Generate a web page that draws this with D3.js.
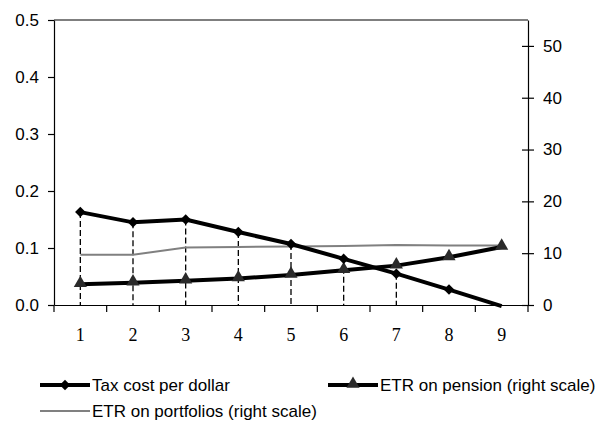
<!DOCTYPE html>
<html><head><meta charset="utf-8">
<script src="https://cdn.jsdelivr.net/npm/d3@7"></script>
<style>body{margin:0;background:#fff}</style>
</head><body>
<svg id="c" width="604" height="425"></svg>
<script>
const categories = ["1","2","3","4","5","6","7","8","9"];
const taxCost = [0.163, 0.145, 0.150, 0.128, 0.107, 0.081, 0.055, 0.027, -0.002];
const etrPension = [4.0, 4.3, 4.7, 5.1, 5.8, 6.7, 7.6, 9.2, 11.2];
const etrPortfolios = [9.7, 9.7, 11.1, 11.2, 11.3, 11.4, 11.6, 11.5, 11.5];
const dropCategories = ["1","2","3","4","5","6","7"];
const leftTicks = [0, 0.1, 0.2, 0.3, 0.4, 0.5];
const rightTicks = [0, 10, 20, 30, 40, 50];
const seriesNames = ["Tax cost per dollar", "ETR on pension (right scale)", "ETR on portfolios (right scale)"];

const svg = d3.select("#c");
const L = 54, R = 528, T = 20, B = 305;
const x = d3.scaleBand().domain(categories).range([L, R]);
const yL = d3.scaleLinear().domain([0, 0.5]).range([B, T]);
const yR = d3.scaleLinear().domain([0, 55]).range([B, T]);
const cx = d => x(d) + x.bandwidth() / 2;
const font = "Liberation Sans, Arial, sans-serif";

// frame top
svg.append("line").attr("x1", L).attr("x2", R).attr("y1", T).attr("y2", T).attr("stroke", "#000").attr("stroke-width", 1.2);

// left axis
const gL = svg.append("g").attr("transform", `translate(${L},0)`)
  .call(d3.axisLeft(yL).tickValues(leftTicks).tickFormat(d3.format(".1f")).tickSize(6).tickSizeOuter(0));
// right axis
const gR = svg.append("g").attr("transform", `translate(${R},0)`)
  .call(d3.axisRight(yR).tickValues(rightTicks).tickFormat(d3.format("d")).tickSize(6).tickSizeOuter(0));
gR.selectAll(".tick line").attr("x1", -6);
// bottom axis
const gB = svg.append("g").attr("transform", `translate(0,${B})`)
  .call(d3.axisBottom(x).tickSize(0).tickSizeOuter(0));
gB.selectAll(".tick line").remove();
const bounds = categories.map(c => x(c)).concat([R]);
gB.selectAll(".bt").data(bounds).join("line").attr("class", "bt")
  .attr("x1", d => d).attr("x2", d => d).attr("y1", 0).attr("y2", 7).attr("stroke", "#000").attr("stroke-width", 1.2);

[gL, gR, gB].forEach(g => {
  g.select(".domain").attr("stroke", "#000").attr("stroke-width", 1.2);
  g.selectAll(".tick line").attr("stroke", "#000").attr("stroke-width", 1.2);
});
gL.selectAll("text").attr("font-family", font).attr("font-size", 17).attr("fill", "#000").attr("x", -15);
gR.selectAll("text").attr("font-family", font).attr("font-size", 17).attr("fill", "#000").attr("x", 15);
gB.selectAll("text").attr("font-family", "Liberation Serif, Times New Roman, serif").attr("font-size", 18).attr("fill", "#000").attr("y", 36).attr("dy", 0);

// drop lines
svg.append("g").selectAll("line").data(dropCategories).join("line")
  .attr("x1", d => cx(d)).attr("x2", d => cx(d))
  .attr("y1", d => yL(taxCost[categories.indexOf(d)])).attr("y2", B)
  .attr("stroke", "#000").attr("stroke-width", 1.3).attr("stroke-dasharray", "6,3");

// portfolios line
svg.append("path").datum(etrPortfolios)
  .attr("d", d3.line().x((d, i) => cx(categories[i])).y(d => yR(d)))
  .attr("fill", "none").attr("stroke", "#808080").attr("stroke-width", 2);

// pension line
svg.append("path").datum(etrPension)
  .attr("d", d3.line().x((d, i) => cx(categories[i])).y(d => yR(d)))
  .attr("fill", "none").attr("stroke", "#000").attr("stroke-width", 4);
const tri = d3.symbol().type(d3.symbolTriangle).size(75);
svg.append("g").selectAll("path").data(etrPension).join("path")
  .attr("d", tri).attr("transform", (d, i) => `translate(${cx(categories[i])},${yR(d) - 1})`)
  .attr("fill", "#2a2a2a");

// tax cost line
svg.append("path").datum(taxCost)
  .attr("d", d3.line().x((d, i) => cx(categories[i])).y(d => yL(d)))
  .attr("fill", "none").attr("stroke", "#000").attr("stroke-width", 4);
const dia = d3.symbol().type(d3.symbolDiamond2).size(70);
svg.append("g").selectAll("path").data(taxCost.slice(0, 8)).join("path")
  .attr("d", dia).attr("transform", (d, i) => `translate(${cx(categories[i])},${yL(d)})`)
  .attr("fill", "#000");

// legend
const lg = svg.append("g").attr("font-family", font).attr("font-size", 17);
function legendItem(x0, y0, name, color, w, marker) {
  lg.append("line").attr("x1", x0).attr("x2", x0 + 50).attr("y1", y0).attr("y2", y0).attr("stroke", color).attr("stroke-width", w);
  if (marker) lg.append("path").attr("d", marker).attr("transform", `translate(${x0 + 25},${y0 - (marker === tri() ? 1 : 0)})`).attr("fill", marker === tri() ? "#2a2a2a" : "#000");
  lg.append("text").attr("x", x0 + 52).attr("y", y0 + 6).text(name).attr("fill", "#000");
}
legendItem(40, 385, seriesNames[0], "#000", 4, dia());
legendItem(328, 385, seriesNames[1], "#000", 4, tri());
legendItem(40, 411, seriesNames[2], "#808080", 2, null);
</script>
</body></html>
